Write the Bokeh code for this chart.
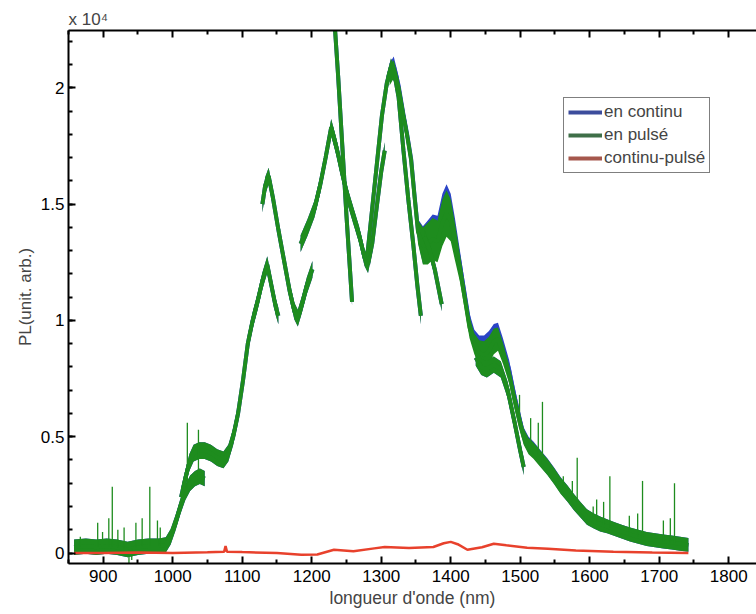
import numpy as np
from bokeh.plotting import figure
from bokeh.models import (Range1d, LinearAxis, FixedTicker, Legend, LegendItem, Title,
                          CustomJSTickFormatter)
from bokeh.embed import file_html
from bokeh.resources import INLINE

# ---------------- data (PL counts vs wavelength in nm) ----------------
# green / blue spectrum is made of overlapping scan segments
g1_x = [858, 875, 890, 905, 920, 935, 950, 965, 980, 990, 997, 1004, 1011, 1018, 1025, 1032, 1039, 1046]
g1_y = [250, 300, 250, 300, 250, 150, 250, 300, 300, 350, 700, 1300, 2000, 2600, 3000, 3200, 3300, 3200]

g2_x = [1012, 1018, 1024, 1030, 1038, 1046, 1055, 1064, 1073, 1080, 1087, 1094, 1101, 1108, 1115, 1122, 1129, 1136, 1142, 1148, 1152]
g2_y = [2400, 3200, 3900, 4300, 4400, 4400, 4300, 4100, 4000, 4300, 5000, 6000, 7400, 9000, 10000, 10800, 11700, 12400, 11500, 10600, 10200]

g3_x = [1129, 1133, 1138, 1144, 1152, 1160, 1168, 1175, 1180, 1186, 1193, 1201]
g3_y = [15000, 15800, 16200, 15300, 13900, 12600, 11300, 10400, 10100, 10700, 11500, 12200]

g4_x = [1184, 1194, 1204, 1212, 1220, 1228, 1236, 1244, 1252, 1260, 1268, 1276, 1281, 1287, 1294, 1300, 1305]
g4_y = [13300, 14000, 14800, 15800, 17000, 18300, 17400, 16300, 15300, 14500, 13700, 12700, 12400, 13300, 15000, 16400, 17300]

g5_x = [1232, 1238, 1244, 1250, 1255, 1258]
g5_y = [23200, 20500, 17500, 14500, 12200, 10800]

g6_x = [1280, 1287, 1294, 1301, 1308, 1314, 1319, 1325, 1332, 1339, 1346, 1352, 1357]
g6_y = [12800, 14800, 16800, 18800, 20200, 20900, 20600, 19600, 17300, 15200, 13300, 11500, 10200]

g7_x = [1312, 1318, 1325, 1332, 1337, 1343, 1348, 1353, 1360, 1367, 1374, 1381, 1388, 1394, 1400,
        1406, 1413, 1420, 1427, 1434, 1441, 1448, 1455, 1462, 1468, 1475, 1484, 1491, 1498, 1505,
        1512, 1519, 1529, 1539, 1549, 1558, 1568, 1577, 1587, 1596, 1606, 1615, 1625, 1634, 1646,
        1658, 1670, 1682, 1694, 1706, 1718, 1730, 1742]
g7_y = [20500, 20800, 20000, 18800, 18000, 16900, 15300, 13800, 13200, 13300, 13500, 13400, 14200, 14600, 14300,
        13400, 12300, 11000, 9700, 9000, 8600, 8500, 8700, 9100, 9200, 8600, 7700, 6700, 5800, 5000,
        4600, 4400, 4050, 3700, 3300, 2900, 2550, 2200, 1850, 1550, 1380, 1250, 1150, 1050, 920,
        800, 700, 600, 550, 500, 450, 400, 350]
g7_blue_y = [20650, 20950, 20100, 18850, 18050, 16950, 15350, 13850, 13250, 13400, 13650, 13600, 14450, 14850, 14550,
             13600, 12450, 11150, 9850, 9150, 8800, 8750, 8950, 9300, 9400, 8800, 7900, 6850, 5900, 5050,
             4650, 4450, 4080, 3720, 3320, 2920, 2550, 2200, 1850, 1550, 1380, 1250, 1150, 1050, 920,
             800, 700, 600, 550, 500, 450, 400, 350]
g7_noise = [400, 400, 400, 400, 400, 400, 400, 500, 800, 900, 900, 900, 1000, 1000, 900,
            800, 600, 500, 450, 450, 550, 600, 600, 550, 500, 450, 400, 400, 400, 350,
            350, 350, 350, 350, 350, 350, 350, 350, 330, 330, 320, 320, 300, 300, 300,
            300, 300, 300, 300, 300, 300, 300, 300]

g8_x = [1436, 1444, 1452, 1462, 1472, 1482, 1492, 1500, 1505]
g8_y = [8400, 8000, 7900, 8100, 7900, 7000, 5600, 4400, 3700]

g9_x = [1362, 1370, 1377, 1383, 1387]
g9_y = [13600, 13000, 12200, 11300, 10700]

segments_x = [g1_x, g2_x, g3_x, g4_x, g5_x, g6_x, g7_x, g8_x, g9_x]
segments_y = [g1_y, g2_y, g3_y, g4_y, g5_y, g6_y, g7_y, g8_y, g9_y]
segments_noise = [330, 360, 360, 360, 150, 360, g7_noise, 350, 300]

# isolated noise spikes of the pulsed spectrum
spike_x = [867, 892, 899, 908, 913, 921, 930, 937, 941, 947, 956, 967, 978, 982, 1021, 1037,
           1499, 1515, 1526, 1532, 1554, 1562, 1575, 1582, 1605, 1610, 1620, 1629, 1657, 1669,
           1676, 1706, 1716, 1722]
spike_top = [700, 1300, 900, 1500, 2850, 1000, 1100, -450, -300, 1300, 1500, 2850, 1400, 1100, 5600, 5300,
             6800, 5800, 5600, 6500, 3100, 3300, 3100, 4100, 2000, 2300, 2200, 3300, 1600, 1700,
             3100, 1400, 1500, 3000]

# difference continu - pulse
red_x = [858, 900, 950, 1000, 1050, 1074, 1076, 1078, 1100, 1150, 1185, 1208, 1232, 1260, 1290,
         1305, 1340, 1375, 1390, 1400, 1410, 1424, 1445, 1462, 1480, 1510, 1540, 1580, 1634, 1690, 1742]
red_y = [0, 0, 20, 0, 30, 60, 300, 60, 40, 0, -70, -60, 140, 80, 200,
         260, 220, 260, 420, 480, 380, 140, 250, 400, 330, 230, 180, 110, 55, 20, 0]

x_ticks = [900, 1000, 1100, 1200, 1300, 1400, 1500, 1600, 1700, 1800]
x_minor = [850, 950, 1050, 1150, 1250, 1350, 1450, 1550, 1650, 1750, 1850]
y_ticks = [0, 5000, 10000, 15000, 20000]
y_minor = list(range(-1000, 23000, 1000))

legend_labels = ["en continu", "en pulsé", "continu-pulsé"]

# ---------------- styling ----------------
FONT = "Liberation Sans"
GREEN = "#1e8c1e"
BLUE = "#2b44c6"
RED = "#e8412c"
LEG_COLORS = ["#3c4c9c", "#3f6f48", "#a5574c"]

p = figure(width=756, height=614, x_range=Range1d(850, 1840), y_range=Range1d(-450, 22465),
           output_backend="svg", toolbar_location=None,
           min_border_left=68, min_border_right=0, min_border_top=30, min_border_bottom=51)
p.outline_line_color = None
p.xgrid.visible = False
p.ygrid.visible = False
p.background_fill_color = "white"
p.border_fill_color = "white"


def style_axis(ax):
    ax.axis_line_width = 2
    ax.major_tick_line_width = 2
    ax.minor_tick_line_width = 2
    ax.major_tick_in = 7
    ax.major_tick_out = 0
    ax.minor_tick_in = 4
    ax.minor_tick_out = 0
    ax.major_label_text_font = FONT
    ax.major_label_text_font_size = "17px"
    ax.major_label_text_color = "black"
    ax.axis_label_text_font = FONT
    ax.axis_label_text_font_size = "17px"
    ax.axis_label_text_font_style = "normal"


xax = p.xaxis[0]
xax.ticker = FixedTicker(ticks=x_ticks, minor_ticks=x_minor)
style_axis(xax)
xax.major_label_standoff = 6

yax = p.yaxis[0]
yax.ticker = FixedTicker(ticks=y_ticks, minor_ticks=y_minor)
yax.formatter = CustomJSTickFormatter(code="return (tick/10000).toString();")
style_axis(yax)
yax.major_label_standoff = 4
yax.axis_label = "PL(unit. arb.)"
yax.axis_label_standoff = 3

top = LinearAxis(ticker=FixedTicker(ticks=x_ticks, minor_ticks=x_minor),
                 formatter=CustomJSTickFormatter(code="return '';"))
style_axis(top)
top.major_label_text_font_size = "1px"
top.major_label_standoff = 0
p.add_layout(top, "above")

# ---------------- data glyphs ----------------
def draw(color, ys_list):
    for xs, ys, nz in zip(segments_x, ys_list, segments_noise):
        xs = np.array(xs, dtype=float)
        ys = np.array(ys, dtype=float)
        nz = np.array(nz, dtype=float) if np.ndim(nz) else np.full(len(xs), float(nz))
        p.varea(x=xs, y1=ys - nz, y2=ys + nz, fill_color=color, fill_alpha=1.0)
        p.line(xs, ys, line_color=color, line_width=4)


blue_ys = [g1_y, g2_y, g3_y, g4_y, g5_y, g6_y, g7_blue_y, g8_y, g9_y]
draw(BLUE, blue_ys)
draw(GREEN, segments_y)

sx = np.array(spike_x, dtype=float)
base = np.where(sx < 1200, np.interp(sx, g1_x, g1_y), np.interp(sx, g7_x, g7_y))
p.segment(x0=sx, y0=base, x1=sx, y1=spike_top, line_color=GREEN, line_width=1.3)

p.line(red_x, red_y, line_color=RED, line_width=2.5)

# ---------------- legend (sample lines placed off-range) ----------------
leg_r = [p.line([0, 1], [0, 0], line_color=c, line_width=4) for c in LEG_COLORS]
legend = Legend(items=[LegendItem(label=l, renderers=[r]) for l, r in zip(legend_labels, leg_r)],
                location=(495, 390), orientation="vertical")
legend.border_line_color = "black"
legend.border_line_width = 1
legend.background_fill_color = "white"
legend.background_fill_alpha = 1
legend.label_text_font = FONT
legend.label_text_font_size = "17px"
legend.glyph_width = 34
legend.glyph_height = 20
legend.label_height = 20
legend.label_standoff = 2
legend.padding = 4
legend.spacing = 3
legend.margin = 0
p.add_layout(legend)

# ---------------- extra text ----------------
p.title.text = "x 10\u2074"
p.title.align = "left"
p.title.text_font = FONT
p.title.text_font_size = "17px"
p.title.text_font_style = "normal"
p.title.standoff = 3
p.title.offset = 0

xlabel = Title(text="longueur d'onde (nm)", align="left", offset=261, standoff=3,
               text_font=FONT, text_font_size="17.5px", text_font_style="normal")
p.add_layout(xlabel, "below")

open("out.html", "w").write(file_html(p, INLINE))
